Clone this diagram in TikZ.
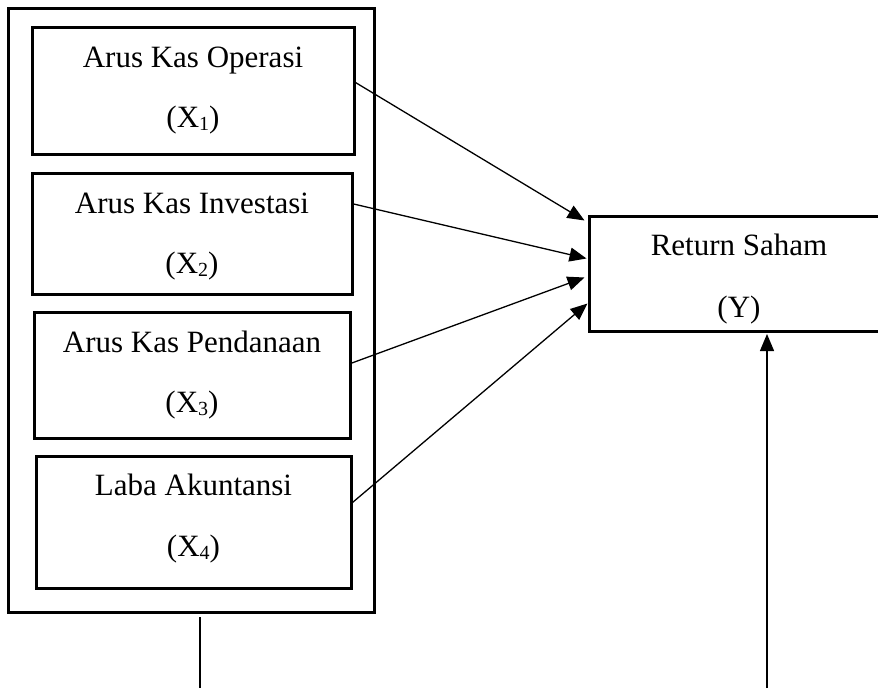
\documentclass[tikz,border=0pt]{standalone}
\usepackage{fontspec}
\setmainfont{Liberation Serif}
\usetikzlibrary{arrows.meta,calc}
\newcommand{\sx}[1]{X\raisebox{-0.12em}{\fontsize{20}{20}\selectfont #1}}
\begin{document}
\begin{tikzpicture}[x=1pt,y=-1pt,
  box/.style={draw,line width=3pt,inner sep=0pt},
  lbl/.style={anchor=base,inner sep=0pt,font=\fontsize{31}{36}\selectfont},
  conn/.style={line width=1.3pt,-{Triangle[length=17pt,width=14pt]}},
  plain/.style={line width=1.3pt}]
\useasboundingbox (0,0) rectangle (878,688);
% outer frame
\node[box,minimum width=366pt,minimum height=604pt] (outer) at (191,310.5) {};
% inner boxes
\node[box,minimum width=322pt,minimum height=127pt] (b1) at (193,90.5) {};
\node[box,minimum width=320pt,minimum height=121pt] (b2) at (192,233.5) {};
\node[box,minimum width=316pt,minimum height=126pt] (b3) at (192,375) {};
\node[box,minimum width=315pt,minimum height=132pt] (b4) at (193.5,522) {};
% Y box (extends beyond right edge)
\node[box,minimum width=320pt,minimum height=115pt] (y) at (749,273.5) {};
% labels
\node[lbl] (t1a) at (193,67) {Arus Kas Operasi};
\node[lbl] (t1b) at (193,127) {(\sx{1})};
\node[lbl] (t2a) at (192,213) {Arus Kas Investasi};
\node[lbl] (t2b) at (192,273) {(\sx{2})};
\node[lbl] (t3a) at (192,352) {Arus Kas Pendanaan};
\node[lbl] (t3b) at (192,412) {(\sx{3})};
\node[lbl] (t4a) at (193.5,495) {Laba Akuntansi};
\node[lbl] (t4b) at (193.5,556) {(\sx{4})};
\node[lbl] (tya) at (739,255) {Return Saham};
\node[lbl] (tyb) at (739,317) {(Y)};
% connectors
\coordinate (s1) at ($(b1.north east)+(0,57)$);
\coordinate (s2) at ($(b2.north east)+(-2,32)$);
\coordinate (s3) at ($(b3.north east)+(-1,53)$);
\coordinate (s4) at ($(b4.north east)+(0,48)$);
\coordinate (e1) at ($(y.north west)+(-3,6)$);
\coordinate (e2) at ($(y.north west)+(-1,44)$);
\coordinate (e3) at ($(y.north west)+(-3,63)$);
\coordinate (e4) at ($(y.north west)+(0,89)$);
\draw[conn] (s1) -- (e1);
\draw[conn] (s2) -- (e2);
\draw[conn] (s3) -- (e3);
\draw[conn] (s4) -- (e4);
\coordinate (d1) at (200,688);
\draw[plain] ($(outer.south)+(9,3)$) -- (d1);
\coordinate (d2) at (767,688);
\draw[conn] (d2) -- ($(y.south)+(18,1.5)$);
\end{tikzpicture}
\end{document}
